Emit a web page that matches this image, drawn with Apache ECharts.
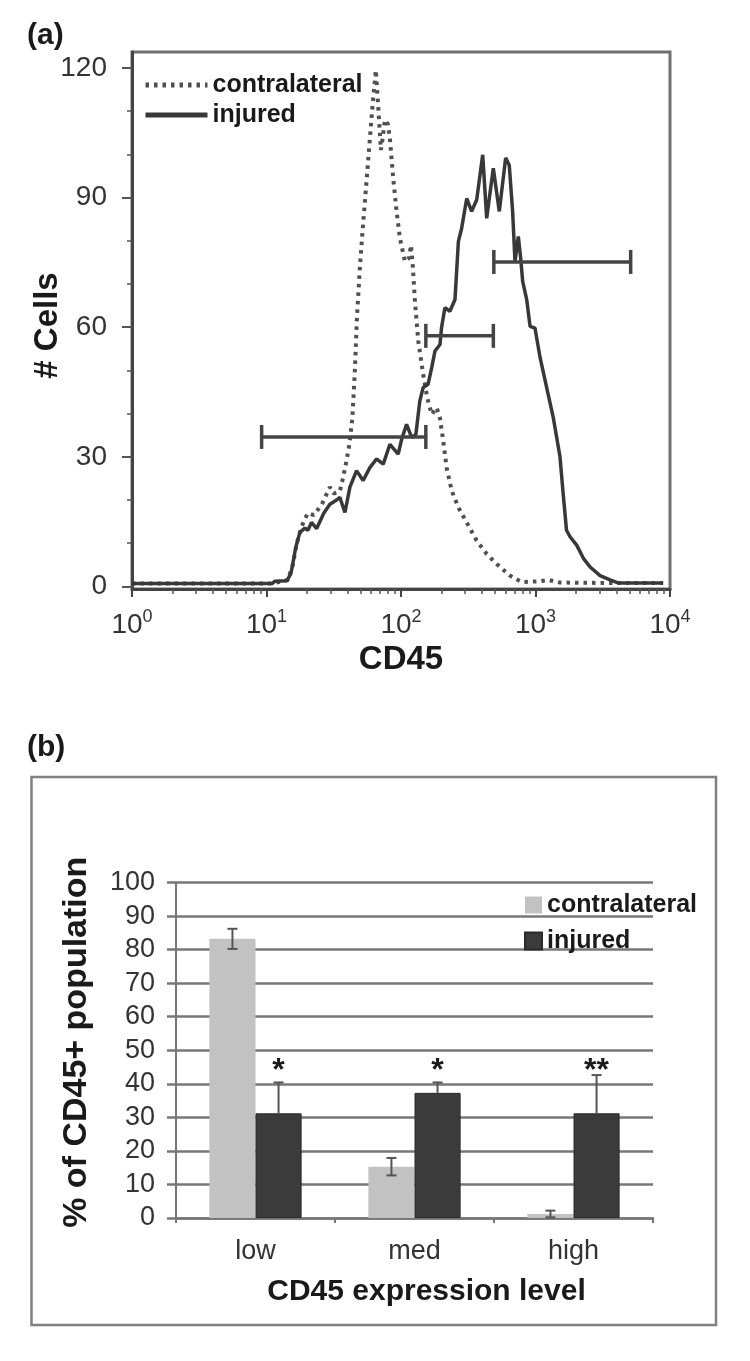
<!DOCTYPE html>
<html><head><meta charset="utf-8">
<script src="https://cdn.jsdelivr.net/npm/echarts@6/dist/echarts.min.js"></script>
<style>html,body{margin:0;padding:0;background:#fff}#c{width:750px;height:1361px}</style>
</head><body><div id="c"></div>
<script>
const FONT = '"Liberation Sans", Arial, Helvetica, sans-serif';

// ---------- Panel (a): CD45 histogram ----------
const contraX = [1, 11.1, 13.0, 14.4, 15.7, 16.8, 18.3, 20.3, 22.5, 25.8, 29.6, 31.6, 35.1, 37.0, 39.3, 41.4, 43.5, 45.4, 47.0, 49.5, 52.3, 55.5, 58.7, 62.1, 65.0, 67.4, 70.9, 73.3, 75.9, 79.9, 82.7, 87.5, 92.7, 98.2, 107, 114.8, 118.5, 122.5, 126.9, 134.4, 146.3, 156.7, 169, 184, 194.7, 206, 218.4, 238, 266.6, 307.8, 365.5, 433.6, 514.5, 645.7, 789, 1081, 1245, 1521, 3020, 8890];
const contraY = [0.7, 0.7, 1.2, 1.5, 5, 10, 14, 17, 16.5, 19, 23, 21.5, 22, 25, 29, 33, 39, 50, 62, 74, 84, 94, 103.7, 113, 119.5, 112, 101, 104, 108, 107, 103.7, 94.5, 86.8, 80.6, 75.2, 76, 79, 74, 66, 56.8, 49, 43.7, 39.8, 41.4, 39, 33.7, 27.5, 22.2, 18.3, 14.8, 10.6, 7.5, 5.2, 2.5, 1.0, 1.2, 1.5, 0.9, 0.8, 0.8];
const injuredX = [1, 11.1, 11.5, 14.2, 15.2, 16.5, 17.7, 19.3, 20.3, 21.6, 23.6, 26.7, 29.6, 33.2, 35.1, 38.3, 41.7, 46.7, 52.3, 58.7, 65.7, 73.8, 82.7, 95.3, 101, 110, 120, 129, 138, 146, 159, 169, 179, 195, 200, 212, 231, 252, 267, 282.5, 308, 335, 365.5, 405, 433.6, 485.6, 538, 600, 638, 676, 704, 745, 776, 803, 860, 911, 991, 1081, 1211, 1357, 1521, 1600, 1700, 1807, 2028, 2270, 2547, 3020, 3584, 4111, 8890];
const injuredY = [0.7, 0.7, 1.2, 1.3, 3, 9, 12.5, 13.5, 13, 14.8, 13.4, 17, 19, 20, 20.6, 17.1, 23, 26.8, 24.5, 27.5, 29.5, 28.3, 32.9, 30.6, 34, 37.5, 34.5, 35.2, 42.9, 46, 46.8, 50.6, 54.5, 56, 59.8, 64.5, 63.7, 66.4, 79.8, 82.9, 89.8, 86.8, 89.5, 99.9, 85.2, 96.8, 86.8, 99.2, 97.5, 86.8, 75.2, 81, 76, 70.6, 66.4, 60.2, 59.8, 53, 46, 39, 30, 22, 13, 11.5, 9.5, 6.5, 4.5, 2.5, 1.5, 0.8, 0.8];
// gates (low / med / high)
const gateFrom = [9.2, 153, 490];
const gateTo = [153, 486, 5100];
const gateLevel = [34.6, 58, 75.1];
// axes of panel (a)
const yTicksA = [0, 30, 60, 90, 120];
const yMinorA = [10, 20, 40, 50, 70, 80, 100, 110];
const xTickExp = ['0', '1', '2', '3', '4'];
const xMinorMult = [2, 3, 4, 5, 6, 7, 8, 9];
const xDecades = [0, 1, 2, 3];

// ---------- Panel (b): bar chart ----------
const categories = ['low', 'med', 'high'];
const contraPct = [83.2, 15.3, 1.2];
const contraErr = [3.0, 2.6, 1.0];
const injuredPct = [31.2, 37.3, 31.2];
const injuredErr = [9.2, 3.1, 11.4];
const signif = ['*', '*', '**'];
const signifLevel = 46;

// ---------- build ----------
const xMinorPos = [];
xDecades.forEach(d => xMinorMult.forEach(m => xMinorPos.push(Math.log10(m) + d)));

const contraData = contraX.map((x, i) => [x, contraY[i]]);
const injuredData = injuredX.map((x, i) => [x, injuredY[i]]);
const gateData = gateFrom.map((f, i) => [f, gateTo[i], gateLevel[i]]);
const errData = [];
categories.forEach((c, i) => {
  errData.push([i, contraPct[i], contraErr[i], -1]);
  errData.push([i, injuredPct[i], injuredErr[i], 1]);
});
const sigData = categories.map((c, i) => [i, signifLevel]);

const tickLabelStyle = { fontFamily: FONT, fontSize: 28, color: '#333' };
const titleStyle = { fontFamily: FONT, fontSize: 33, fontWeight: 'bold', color: '#1a1a1a' };

const option = {
  animation: false,
  backgroundColor: '#fff',
  grid: [
    { left: 132, top: 52, width: 538, height: 537, show: true, borderColor: '#707070', borderWidth: 3, backgroundColor: 'rgba(0,0,0,0)' },
    { left: 176, top: 882.5, width: 477, height: 335.5 }
  ],
  xAxis: [
    { type: 'log', logBase: 10, gridIndex: 0, min: 1, max: 10000, position: 'bottom',
      axisLine: { show: true, onZero: false, lineStyle: { color: '#444', width: 3 } },
      axisTick: { show: false }, axisLabel: { show: false }, splitLine: { show: false }, minorTick: { show: false },
      name: 'CD45', nameLocation: 'middle', nameGap: 54, nameMoveOverlap: false, nameTextStyle: titleStyle },
    { type: 'value', gridIndex: 0, min: 0, max: 4, interval: 1, position: 'bottom',
      axisLine: { show: false, onZero: false },
      axisTick: { show: true, length: 8, lineStyle: { color: '#444', width: 2 } },
      axisLabel: { margin: 19,
        formatter: v => '{b|10}{s|' + xTickExp[Math.round(v)] + '}',
        rich: { b: { fontFamily: FONT, fontSize: 28, color: '#333' },
                s: { fontFamily: FONT, fontSize: 18, color: '#333', padding: [0, 0, 16, 0] } } },
      splitLine: { show: false } },
    { type: 'value', gridIndex: 0, min: 0, max: 4, position: 'bottom',
      axisLine: { show: false, onZero: false },
      axisTick: { show: true, length: 5, customValues: xMinorPos, lineStyle: { color: '#555', width: 1.5 } },
      axisLabel: { show: false }, splitLine: { show: false } },
    { type: 'category', gridIndex: 1, data: categories, position: 'bottom',
      axisLine: { show: true, onZero: false, lineStyle: { color: '#777', width: 2.5 } },
      axisTick: { show: true, length: 5, lineStyle: { color: '#777', width: 2 } },
      axisLabel: { margin: 20, fontFamily: FONT, fontSize: 27, color: '#333' },
      name: 'CD45 expression level', nameLocation: 'middle', nameGap: 59, nameMoveOverlap: false,
      nameTextStyle: { fontFamily: FONT, fontSize: 30, fontWeight: 'bold', color: '#1a1a1a', padding: [0, 0, 0, 24] } }
  ],
  yAxis: [
    { type: 'value', gridIndex: 0, min: -0.6, max: 123.7, position: 'left',
      axisLine: { show: true, onZero: false, lineStyle: { color: '#444', width: 3 } },
      axisTick: { show: true, length: 10, customValues: yTicksA, lineStyle: { color: '#555', width: 2 } },
      axisLabel: Object.assign({ customValues: yTicksA, margin: 25 }, tickLabelStyle),
      splitLine: { show: false },
      name: '# Cells', nameLocation: 'middle', nameGap: 68, nameRotate: 90, nameMoveOverlap: false,
      nameTextStyle: Object.assign({}, titleStyle, { padding: [0, 10, 0, 0] }) },
    { type: 'value', gridIndex: 0, min: -0.6, max: 123.7, position: 'left',
      axisLine: { show: false, onZero: false },
      axisTick: { show: true, length: 5, customValues: yMinorA, lineStyle: { color: '#555', width: 1.5 } },
      axisLabel: { show: false }, splitLine: { show: false } },
    { type: 'value', gridIndex: 1, min: 0, max: 100, interval: 10, position: 'left',
      axisLine: { show: true, onZero: false, lineStyle: { color: '#777', width: 2 } },
      axisTick: { show: true, length: 9, lineStyle: { color: '#777', width: 2.5 } },
      axisLabel: { margin: 21, fontFamily: FONT, fontSize: 27, color: '#333' },
      splitLine: { show: true, lineStyle: { color: '#777', width: 2.5 } },
      name: '% of CD45+ population', nameLocation: 'middle', nameGap: 82, nameRotate: 90, nameMoveOverlap: false,
      nameTextStyle: { fontFamily: FONT, fontSize: 34, fontWeight: 'bold', color: '#1a1a1a', padding: [0, 0, 0, 16] } }
  ],
  legend: [
    { left: 138, top: 67, orient: 'vertical', itemWidth: 62, itemHeight: 14, itemGap: 4, selectedMode: false,
      data: ['contralateral', 'injured'],
      itemStyle: { opacity: 0, color: 'rgba(0,0,0,0)', borderWidth: 0 },
      lineStyle: { width: 5 },
      textStyle: { fontFamily: FONT, fontSize: 25, fontWeight: 'bold', color: '#1a1a1a', lineHeight: 26 } },
    { left: 519, top: 887, orient: 'vertical', itemWidth: 17, itemHeight: 17, itemGap: 10, icon: 'rect', selectedMode: false,
      data: ['contralateral_b', 'injured_b'], formatter: n => n.replace('_b', ''),
      textStyle: { fontFamily: FONT, fontSize: 25, fontWeight: 'bold', color: '#1a1a1a', lineHeight: 26 } }
  ],
  graphic: [
    { type: 'rect', shape: { x: 31.5, y: 777, width: 684.5, height: 548 }, style: { fill: 'none', stroke: '#808080', lineWidth: 2.5 }, z: -1 },
    { type: 'text', style: { text: '(a)', x: 27, y: 36, font: 'bold 30px ' + FONT, fill: '#1a1a1a', verticalAlign: 'middle' } },
    { type: 'text', style: { text: '(b)', x: 27, y: 748, font: 'bold 30px ' + FONT, fill: '#1a1a1a', verticalAlign: 'middle' } }
  ],
  series: [
    { name: 'contralateral', type: 'line', xAxisIndex: 0, yAxisIndex: 0, data: contraData, symbol: 'none', z: 3,
      itemStyle: { color: '#505050' },
      lineStyle: { color: '#505050', width: 4, type: [3.5, 5] } },
    { name: 'injured', type: 'line', xAxisIndex: 0, yAxisIndex: 0, data: injuredData, symbol: 'none', z: 4,
      itemStyle: { color: '#383838' },
      lineStyle: { color: '#383838', width: 3.5 } },
    { name: 'gates', type: 'custom', xAxisIndex: 0, yAxisIndex: 0, data: gateData, z: 6,
      encode: { x: [0, 1], y: 2 },
      renderItem: (params, api) => {
        const p1 = api.coord([api.value(0), api.value(2)]);
        const p2 = api.coord([api.value(1), api.value(2)]);
        const st = { stroke: '#444', lineWidth: 3.5 };
        return { type: 'group', children: [
          { type: 'line', shape: { x1: p1[0], y1: p1[1], x2: p2[0], y2: p2[1] }, style: st },
          { type: 'line', shape: { x1: p1[0], y1: p1[1] - 12, x2: p1[0], y2: p1[1] + 12 }, style: st },
          { type: 'line', shape: { x1: p2[0], y1: p2[1] - 12, x2: p2[0], y2: p2[1] + 12 }, style: st }
        ] };
      } },
    { name: 'contralateral_b', type: 'bar', xAxisIndex: 3, yAxisIndex: 2, data: contraPct, barWidth: '29%', barGap: '0%',
      itemStyle: { color: '#c2c2c2' } },
    { name: 'injured_b', type: 'bar', xAxisIndex: 3, yAxisIndex: 2, data: injuredPct, barWidth: '29%', barGap: '0%',
      itemStyle: { color: '#3b3b3b', borderColor: '#2a2a2a', borderWidth: 1 } },
    { name: 'errors', type: 'custom', xAxisIndex: 3, yAxisIndex: 2, data: errData, z: 5,
      encode: { x: 0, y: 1 },
      renderItem: (params, api) => {
        const idx = api.value(0), v = api.value(1), e = api.value(2), side = api.value(3);
        const band = api.size([1, 0])[0];
        const cx = api.coord([idx, 0])[0] + side * band * 0.145;
        const yTop = api.coord([idx, v + e])[1];
        const yBot = side < 0 ? api.coord([idx, Math.max(v - e, 0)])[1] : api.coord([idx, v])[1];
        const st = { stroke: '#555', lineWidth: 2 };
        const ch = [
          { type: 'line', shape: { x1: cx, y1: yTop, x2: cx, y2: yBot }, style: st },
          { type: 'line', shape: { x1: cx - 5, y1: yTop, x2: cx + 5, y2: yTop }, style: st }
        ];
        if (side < 0) ch.push({ type: 'line', shape: { x1: cx - 5, y1: yBot, x2: cx + 5, y2: yBot }, style: st });
        return { type: 'group', children: ch };
      } },
    { name: 'signif', type: 'custom', xAxisIndex: 3, yAxisIndex: 2, data: sigData, z: 5,
      encode: { x: 0, y: 1 },
      renderItem: (params, api) => {
        const idx = api.value(0);
        const band = api.size([1, 0])[0];
        const p = api.coord([idx, api.value(1)]);
        return { type: 'text', style: { text: signif[params.dataIndex], x: p[0] + band * 0.145, y: p[1] + 8,
          align: 'center', verticalAlign: 'middle', font: 'bold 32px ' + FONT, fill: '#1a1a1a' } };
      } }
  ]
};

const chart = echarts.init(document.getElementById('c'), null, { renderer: 'canvas' });
chart.setOption(option);
</script>
</body></html>
